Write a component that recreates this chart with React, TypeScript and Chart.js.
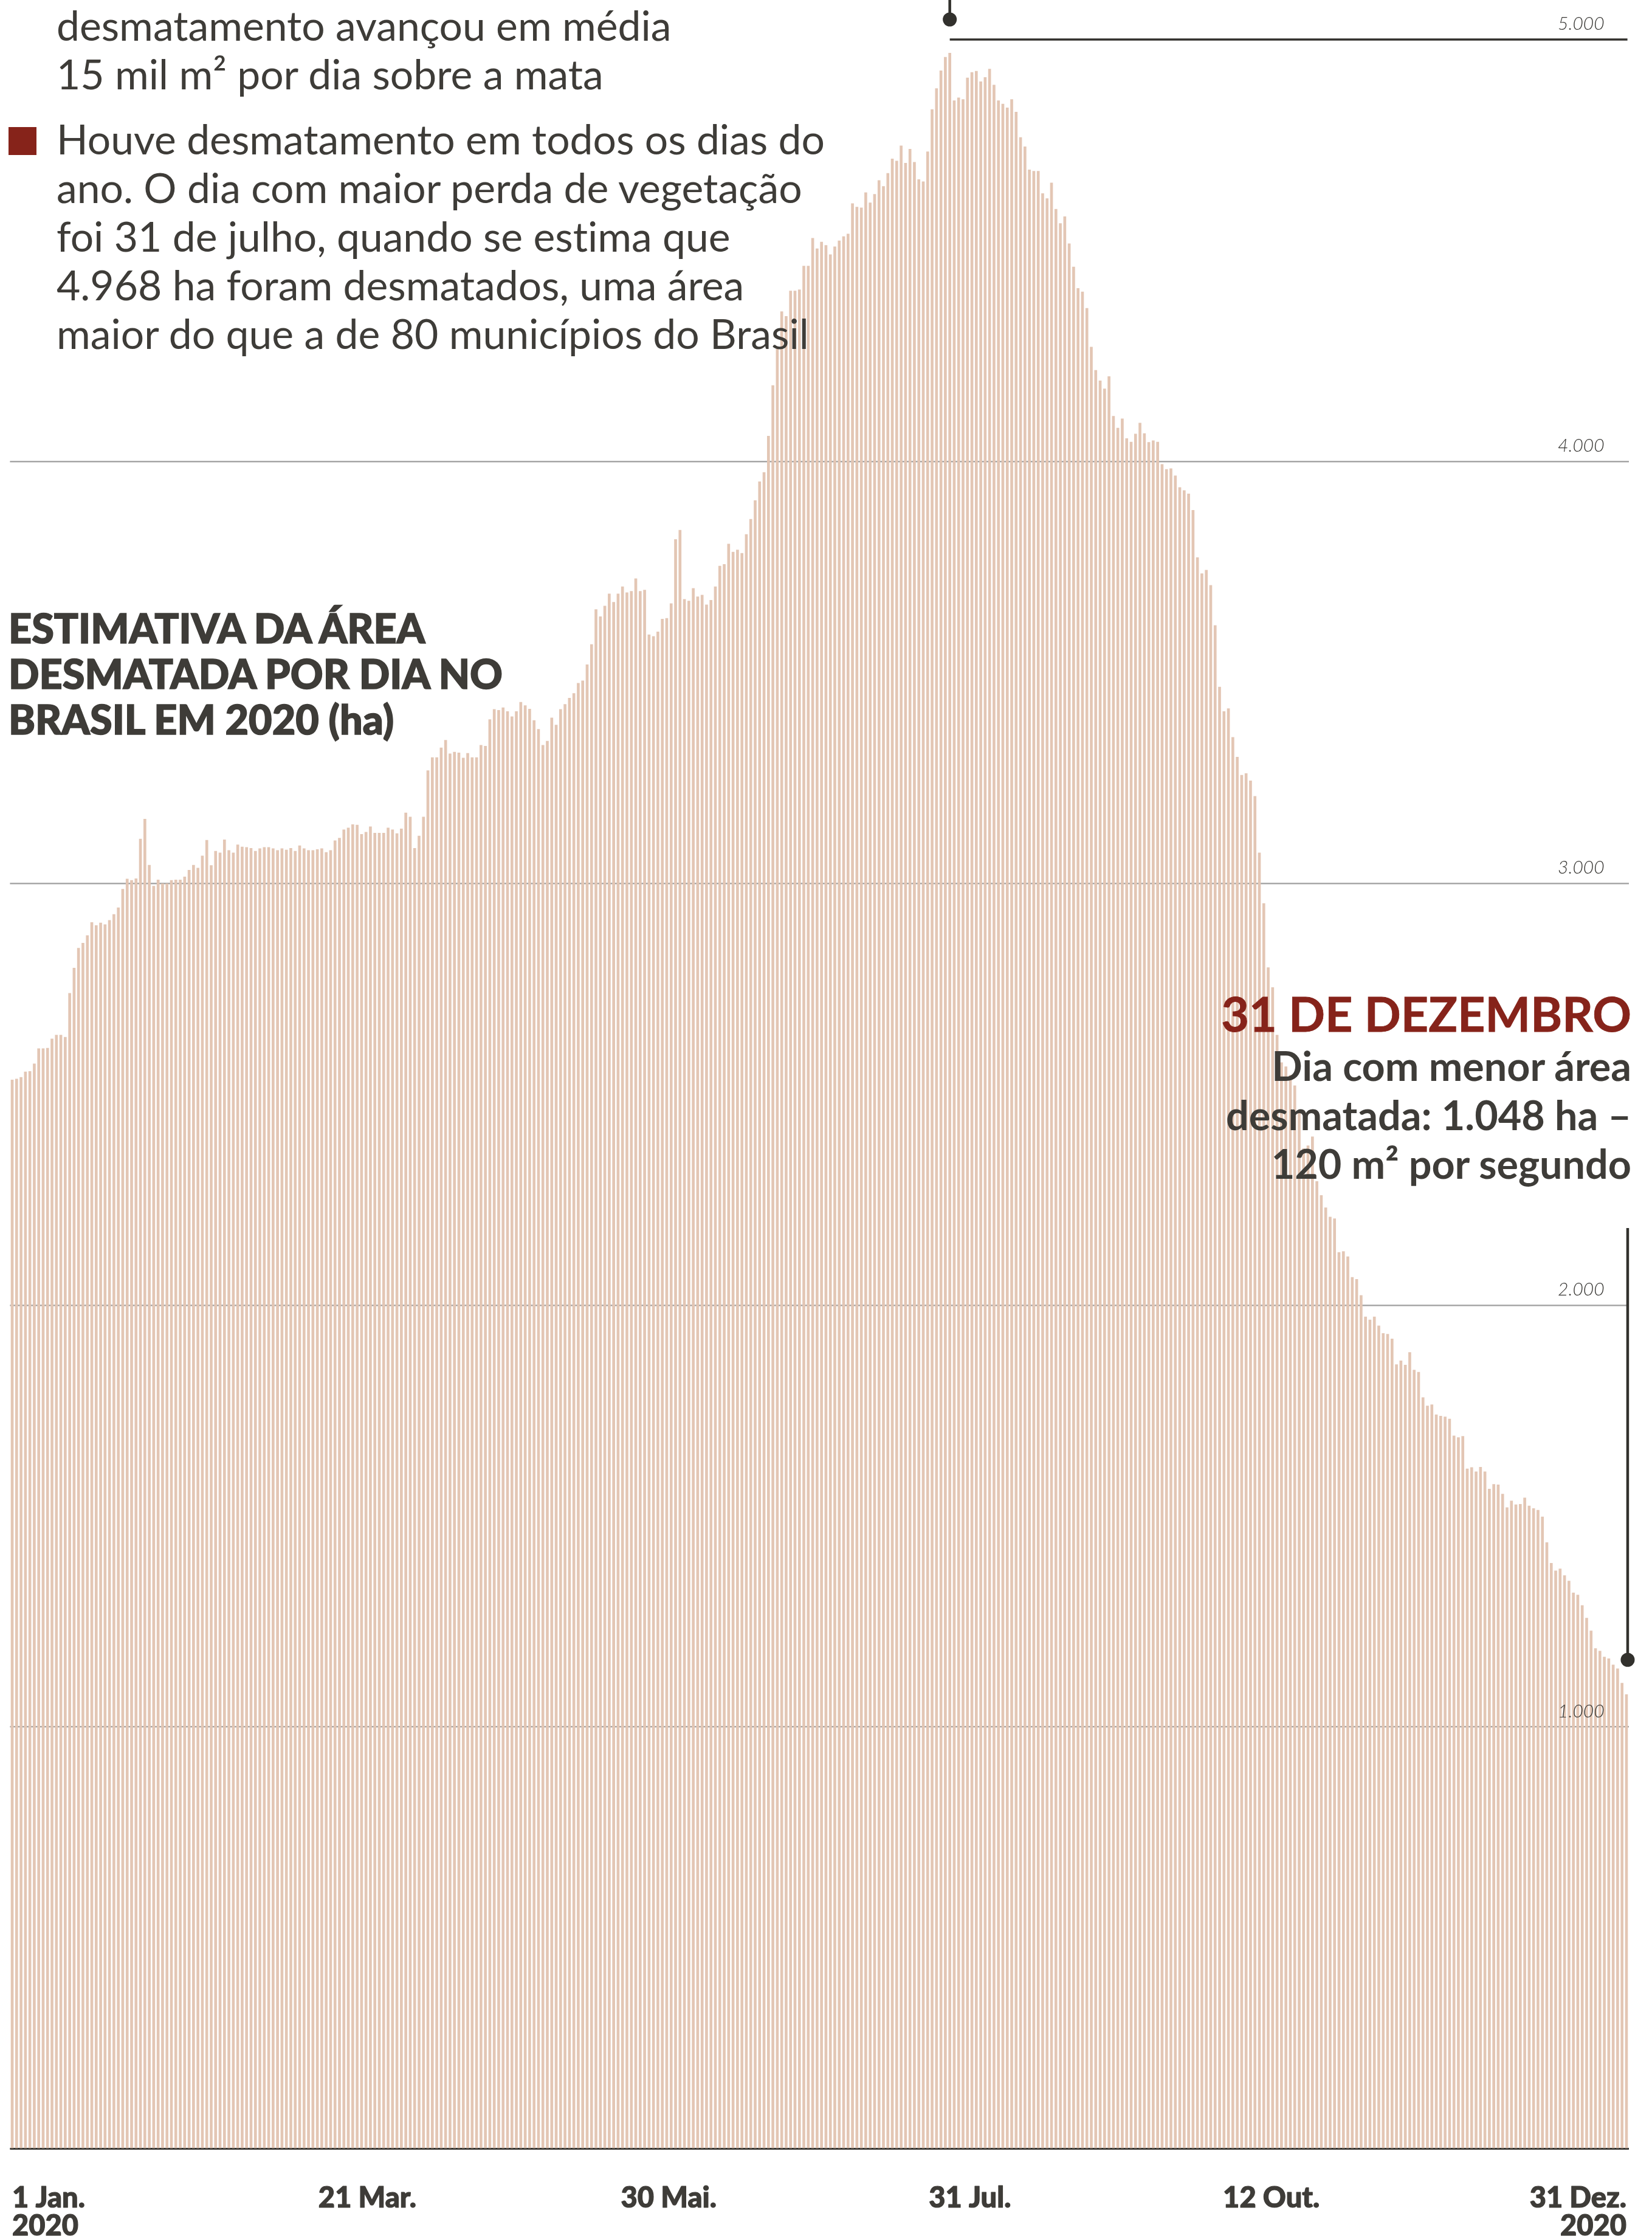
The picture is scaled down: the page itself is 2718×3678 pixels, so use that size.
import React, { useEffect, useRef, useState } from "react";
import { Chart, registerables } from "chart.js";

Chart.register(...registerables);

// ---------- DATA (ha desmatados por dia, 2020) ----------
const JAN = [2534, 2536, 2540, 2553, 2554, 2572, 2608, 2608, 2609, 2631, 2640, 2640, 2635, 2739, 2799, 2846, 2858, 2876, 2907, 2900, 2906, 2902, 2912, 2926, 2942, 2986, 3010, 3007, 3011, 3105, 3152];
const FEV = [3043, 2993, 3008, 2999, 2999, 3007, 3008, 3008, 3015, 3031, 3043, 3036, 3065, 3102, 3042, 3076, 3072, 3103, 3078, 3072, 3091, 3086, 3085, 3083, 3076, 3082, 3085, 3085, 3082];
const MAR = [3078, 3082, 3079, 3083, 3076, 3089, 3082, 3078, 3078, 3080, 3082, 3073, 3078, 3101, 3107, 3127, 3131, 3139, 3138, 3116, 3121, 3134, 3119, 3119, 3119, 3131, 3127, 3118, 3129, 3167, 3157];
const ABR = [3083, 3112, 3157, 3267, 3298, 3298, 3321, 3339, 3307, 3311, 3309, 3297, 3308, 3298, 3298, 3327, 3325, 3388, 3412, 3410, 3416, 3407, 3395, 3407, 3429, 3421, 3413, 3386, 3365, 3327];
const MAI = [3337, 3392, 3375, 3412, 3424, 3439, 3450, 3474, 3480, 3518, 3566, 3649, 3632, 3657, 3686, 3666, 3686, 3703, 3689, 3692, 3722, 3692, 3695, 3589, 3585, 3596, 3626, 3628, 3663, 3815, 3837];
const JUN = [3673, 3669, 3699, 3679, 3683, 3660, 3671, 3703, 3752, 3756, 3804, 3785, 3790, 3782, 3827, 3863, 3907, 3952, 3974, 4060, 4180, 4270, 4355, 4344, 4404, 4404, 4407, 4463, 4463, 4529];
const JUL = [4504, 4520, 4512, 4490, 4509, 4523, 4533, 4539, 4611, 4603, 4601, 4637, 4613, 4633, 4666, 4652, 4683, 4717, 4712, 4748, 4707, 4740, 4709, 4668, 4663, 4734, 4834, 4884, 4926, 4958, 4968];
const AGO = [4855, 4862, 4858, 4909, 4922, 4925, 4900, 4910, 4930, 4892, 4855, 4847, 4838, 4858, 4828, 4768, 4746, 4691, 4688, 4688, 4635, 4623, 4660, 4598, 4564, 4580, 4516, 4461, 4410, 4402, 4363];
const SET = [4271, 4216, 4191, 4172, 4201, 4107, 4079, 4101, 4054, 4046, 4065, 4091, 4066, 4045, 4049, 4046, 3993, 3981, 3983, 3966, 3938, 3931, 3923, 3884, 3772, 3734, 3742, 3706, 3611, 3465];
const OUT = [3407, 3414, 3346, 3299, 3256, 3260, 3243, 3206, 3072, 2952, 2800, 2753, 2640, 2575, 2565, 2545, 2520, 2460, 2371, 2378, 2399, 2293, 2260, 2231, 2209, 2205, 2125, 2127, 2115, 2066, 2061];
const NOV = [2023, 1972, 1965, 1972, 1951, 1933, 1931, 1920, 1859, 1868, 1858, 1888, 1846, 1841, 1781, 1761, 1764, 1740, 1737, 1735, 1730, 1690, 1686, 1689, 1612, 1615, 1605, 1616, 1605, 1564];
const DEZ = [1575, 1574, 1552, 1520, 1536, 1527, 1528, 1543, 1524, 1518, 1514, 1498, 1437, 1388, 1370, 1375, 1359, 1346, 1318, 1313, 1288, 1258, 1228, 1186, 1180, 1166, 1162, 1147, 1138, 1104, 1077];

const MONTHS = [JAN, FEV, MAR, ABR, MAI, JUN, JUL, AGO, SET, OUT, NOV, DEZ];
const MONTH_NAMES = ["Jan.", "Fev.", "Mar.", "Abr.", "Mai.", "Jun.", "Jul.", "Ago.", "Set.", "Out.", "Nov.", "Dez."];
const DAILY_HA = MONTHS.flat();
const DAY_LABELS = MONTHS.flatMap((m, mi) => m.map((_, d) => `${d + 1} ${MONTH_NAMES[mi]}`));

const Y_TICKS = [0, 1000, 2000, 3000, 4000, 5000];
const Y_TICK_LABELS = ["", "1.000", "2.000", "3.000", "4.000", "5.000"];
const X_TICK_LABELS = [["1 Jan.", "2020"], ["21 Mar."], ["30 Mai."], ["31 Jul."], ["12 Out."], ["31 Dez.", "2020"]];

const PEAK_INDEX = 212; // 31 Jul
const LOW_INDEX = DAILY_HA.length - 1; // 31 Dez

const PARAGRAPH_1 = ["desmatamento avançou em média", "15 mil m² por dia sobre a mata"];
const PARAGRAPH_2 = [
  "Houve desmatamento em todos os dias do",
  "ano. O dia com maior perda de vegetação",
  "foi 31 de julho, quando se estima que",
  "4.968 ha foram desmatados, uma área",
  "maior do que a de 80 municípios do Brasil",
];
const TITLE_LINES = ["ESTIMATIVA DA ÁREA", "DESMATADA POR DIA NO", "BRASIL EM 2020 (ha)"];
const NOTE_HEAD = "31 DE DEZEMBRO";
const NOTE_LINES = ["Dia com menor área", "desmatada: 1.048 ha –", "120 m² por segundo"];

// ---------- STYLE ----------
const W = 2718;
const H = 3678;
const BAR_COLOR = "#e3c6b4";
const GRID_COLOR = "#a7a7a7";
const INK = "#32312d";
const TEXT = "#3e3c38";
const RED = "#86231a";
const FONT = "Lato, 'Noto Sans', sans-serif";
const X_LABEL_ANCHORS = [0, 0.22, 0.4067, 0.5933, 0.78, 1];

const overlayPlugin = {
  id: "overlay",
  afterDraw(chart: any) {
    const { ctx, chartArea, scales } = chart;
    const x = scales.x;
    const y = scales.y;
    ctx.save();

    // y tick labels (above each grid line, right side)
    ctx.font = `italic 300 30px ${FONT}`;
    ctx.fillStyle = "#3a3936";
    ctx.textAlign = "right";
    ctx.textBaseline = "alphabetic";
    Y_TICKS.forEach((v, k) => {
      const lbl = Y_TICK_LABELS[k];
      if (!lbl) return;
      ctx.fillText(lbl, chartArea.right - 40, y.getPixelForValue(v) - 16);
    });

    // dark 5.000 line starting at peak day
    const px = x.getPixelForValue(PEAK_INDEX);
    const y5 = y.getPixelForValue(5000);
    ctx.strokeStyle = INK;
    ctx.fillStyle = INK;
    ctx.lineWidth = 3.5;
    ctx.beginPath();
    ctx.moveTo(px, y5);
    ctx.lineTo(chartArea.right - 2, y5);
    ctx.stroke();

    // peak marker (stem from top + dot)
    ctx.lineWidth = 4.5;
    ctx.beginPath();
    ctx.moveTo(px, 0);
    ctx.lineTo(px, y5 - 33);
    ctx.stroke();
    ctx.beginPath();
    ctx.arc(px, y5 - 33, 11.5, 0, Math.PI * 2);
    ctx.fill();

    // low marker (31 Dez)
    const lx = x.getPixelForValue(LOW_INDEX) + 2;
    const ly = y.getPixelForValue(DAILY_HA[LOW_INDEX]) - 57;
    ctx.beginPath();
    ctx.moveTo(lx, 2020);
    ctx.lineTo(lx, ly);
    ctx.stroke();
    ctx.beginPath();
    ctx.arc(lx, ly, 11.5, 0, Math.PI * 2);
    ctx.fill();

    // x labels
    const x0 = x.getPixelForValue(0);
    const x1 = x.getPixelForValue(LOW_INDEX);
    ctx.font = `900 47px ${FONT}`;
    ctx.fillStyle = TEXT;
    ctx.strokeStyle = TEXT;
    ctx.lineWidth = 1.2;
    ctx.lineJoin = "round";
    X_TICK_LABELS.forEach((lines, k) => {
      const cx = x0 + X_LABEL_ANCHORS[k] * (x1 - x0);
      ctx.textAlign = k === 0 ? "left" : k === X_TICK_LABELS.length - 1 ? "right" : "center";
      lines.forEach((t, j) => {
        const by = chartArea.bottom + 96.5 + j * 46;
        ctx.fillText(t, cx, by);
        ctx.strokeText(t, cx, by);
      });
    });
    ctx.restore();
  },
};

type LineProps = {
  text: string;
  x: number;
  baseline: number;
  size: number;
  weight: number;
  color: string;
  align?: "left" | "right";
  stroke?: number;
  m: { a: number; d: number };
};

function TextLine({ text, x, baseline, size, weight, color, align = "left", stroke = 0, m }: LineProps) {
  const lh = size * 1.2;
  const top = baseline - (lh - (m.a + m.d) * size) / 2 - m.a * size;
  const style: React.CSSProperties = {
    position: "absolute",
    top,
    height: lh,
    lineHeight: `${lh}px`,
    fontFamily: FONT,
    fontSize: size,
    fontWeight: weight,
    fontVariantLigatures: "none",
    color,
    whiteSpace: "nowrap",
    margin: 0,
  };
  if (stroke > 0) (style as any).WebkitTextStroke = `${stroke}px ${color}`;
  if (align === "right") style.right = W - x;
  else style.left = x;
  return <div style={style}>{text}</div>;
}

export default function App() {
  const canvasRef = useRef<HTMLCanvasElement>(null);
  const [m, setM] = useState({ a: 0.987, d: 0.213 });

  useEffect(() => {
    let alive = true;
    document.fonts
      .load(`400 100px Lato`)
      .then(() => {
        const c = document.createElement("canvas").getContext("2d");
        if (!c) return;
        c.font = "400 100px Lato";
        const mt = c.measureText("Hg");
        if (alive && mt.fontBoundingBoxAscent) {
          setM({ a: mt.fontBoundingBoxAscent / 100, d: mt.fontBoundingBoxDescent / 100 });
        }
      })
      .catch(() => {});
    return () => {
      alive = false;
    };
  }, []);

  useEffect(() => {
    const canvas = canvasRef.current;
    if (!canvas) return;
    const chart = new Chart(canvas, {
      type: "bar",
      data: {
        labels: DAY_LABELS,
        datasets: [
          {
            data: DAILY_HA,
            backgroundColor: BAR_COLOR,
            borderWidth: 0,
            barThickness: 4,
          },
        ],
      },
      options: {
        responsive: false,
        animation: false,
        devicePixelRatio: 1,
        events: [],
        layout: { padding: { left: 16.4, right: 38.4, top: 65, bottom: 143.4 } },
        plugins: { legend: { display: false }, tooltip: { enabled: false } },
        scales: {
          x: { display: false },
          y: {
            position: "right",
            min: 0,
            max: 5000,
            z: 1,
            afterFit: (s: any) => {
              s.width = 0;
            },
            border: { display: false },
            ticks: { display: false, stepSize: 1000 },
            grid: {
              drawTicks: false,
              color: (c: any) =>
                c.tick && c.tick.value === 0 ? INK : c.tick && c.tick.value === 5000 ? "rgba(0,0,0,0)" : GRID_COLOR,
              lineWidth: (c: any) => (c.tick && c.tick.value === 0 ? 3 : 2.5),
            },
          },
        },
      } as any,
      plugins: [overlayPlugin],
    });
    let alive = true;
    Promise.all([
      document.fonts.load(`900 47px Lato`),
      document.fonts.load(`italic 300 30px Lato`),
    ])
      .then(() => {
        if (alive) chart.draw();
      })
      .catch(() => {});
    return () => {
      alive = false;
      chart.destroy();
    };
  }, []);

  return (
    <div style={{ position: "absolute", left: 0, top: 0, width: W, height: H, overflow: "hidden", background: "#fff" }}>
      <canvas ref={canvasRef} width={W} height={H} style={{ position: "absolute", left: 0, top: 0, width: W, height: H }} />
      {PARAGRAPH_1.map((t, i) => (
        <TextLine key={"p1" + i} text={t} x={93} baseline={67 + i * 80} size={67.8} weight={400} color={TEXT} m={m} />
      ))}
      <div style={{ position: "absolute", left: 14, top: 209, width: 46, height: 46, background: RED }} />
      {PARAGRAPH_2.map((t, i) => (
        <TextLine key={"p2" + i} text={t} x={93} baseline={254.5 + i * 80} size={67.8} weight={400} color={TEXT} m={m} />
      ))}
      {TITLE_LINES.map((t, i) => (
        <TextLine key={"t" + i} text={t} x={14} baseline={1059 + i * 75} size={66.5} weight={900} color={TEXT} stroke={1.6} m={m} />
      ))}
      <TextLine text={NOTE_HEAD} x={2684} baseline={1698.6} size={79} weight={700} color={RED} align="right" stroke={0.8} m={m} />
      {NOTE_LINES.map((t, i) => (
        <TextLine key={"n" + i} text={t} x={2684} baseline={1779 + i * 80.5} size={66.5} weight={700} color={TEXT} align="right" m={m} />
      ))}
    </div>
  );
}
